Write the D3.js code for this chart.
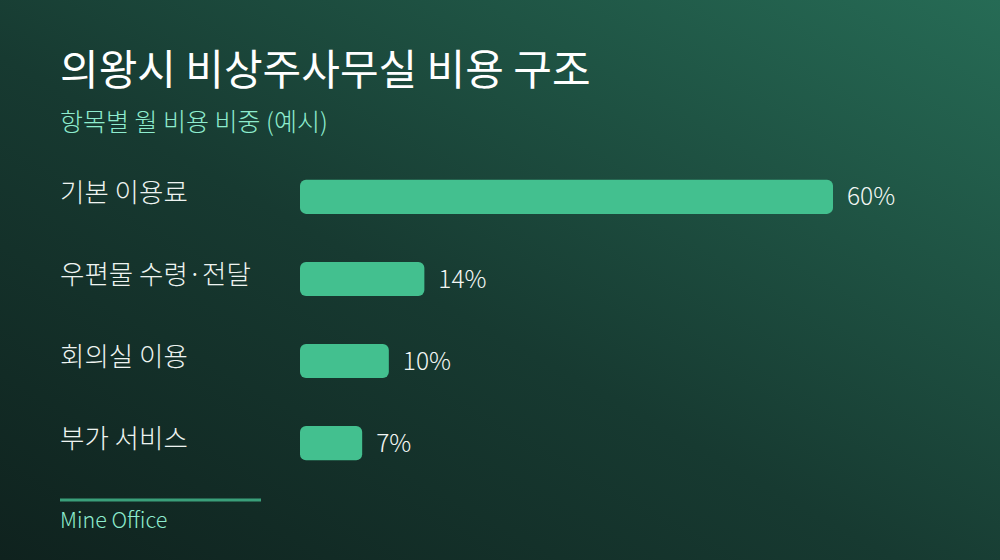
<!DOCTYPE html>
<html>
<head>
<meta charset="utf-8">
<script src="https://cdn.jsdelivr.net/npm/d3@7"></script>
<style>
  body { margin: 0; background: #10231f; }
  svg { display: block; font-family: "Noto Sans CJK KR", "Noto Sans", sans-serif; }
</style>
</head>
<body>
<script>
var categories = ["기본 이용료", "우편물 수령·전달", "회의실 이용", "부가 서비스"];
var values = [60, 14, 10, 7];
var titleText = "의왕시 비상주사무실 비용 구조";
var subtitleText = "항목별 월 비용 비중 (예시)";
var sourceText = "Mine Office";

var width = 1000;
var height = 560;

var svg = d3.select("body").append("svg")
    .attr("width", width)
    .attr("height", height);

var defs = svg.append("defs");
var grad = defs.append("linearGradient")
    .attr("id", "bg")
    .attr("x1", "100%").attr("y1", "0%")
    .attr("x2", "0%").attr("y2", "100%");
grad.append("stop").attr("offset", "0%").attr("stop-color", "#266b55");
grad.append("stop").attr("offset", "55%").attr("stop-color", "#173a31");
grad.append("stop").attr("offset", "100%").attr("stop-color", "#0f221e");

svg.append("rect")
    .attr("width", width)
    .attr("height", height)
    .attr("fill", "url(#bg)");

svg.append("text")
    .attr("x", 60)
    .attr("y", 85)
    .attr("fill", "#ffffff")
    .style("font-size", "42px")
    .style("font-weight", 400)
    .text(titleText);

svg.append("text")
    .attr("x", 60)
    .attr("y", 131)
    .attr("fill", "#8eecce")
    .style("font-size", "25px")
    .style("font-weight", 300)
    .text(subtitleText);

var x = d3.scaleLinear()
    .domain([0, d3.max(values)])
    .range([300, 833]);

var y = d3.scaleBand()
    .domain(categories)
    .range([156, 484])
    .paddingInner(0.585)
    .paddingOuter(0.29);

var rows = svg.append("g").selectAll("g")
    .data(categories)
    .enter().append("g");

rows.append("rect")
    .attr("x", x(0))
    .attr("y", function (d) { return y(d); })
    .attr("width", function (d, i) { return x(values[i]) - x(0); })
    .attr("height", y.bandwidth())
    .attr("rx", 6)
    .attr("fill", "#43c08f");

rows.append("text")
    .attr("x", 60)
    .attr("y", function (d) { return y(d) + y.bandwidth() / 2; })
    .attr("dy", "0.2em")
    .attr("fill", "#eef4f1")
    .style("font-size", "26.5px")
    .style("font-weight", 300)
    .text(function (d) { return d; });

rows.append("text")
    .attr("x", function (d, i) { return x(values[i]) + 14; })
    .attr("y", function (d) { return y(d) + y.bandwidth() / 2; })
    .attr("dy", "0.35em")
    .attr("fill", "#f2f6f4")
    .style("font-size", "24.5px")
    .style("font-weight", 300)
    .text(function (d, i) { return values[i] + "%"; });

svg.append("line")
    .attr("x1", 60).attr("x2", 261)
    .attr("y1", 500).attr("y2", 500)
    .attr("stroke", "#3a9f7a")
    .attr("stroke-width", 3);

svg.append("text")
    .attr("x", 60)
    .attr("y", 528)
    .attr("fill", "#8eecce")
    .style("font-size", "21.5px")
    .style("font-weight", 300)
    .text(sourceText);
</script>
</body>
</html>
